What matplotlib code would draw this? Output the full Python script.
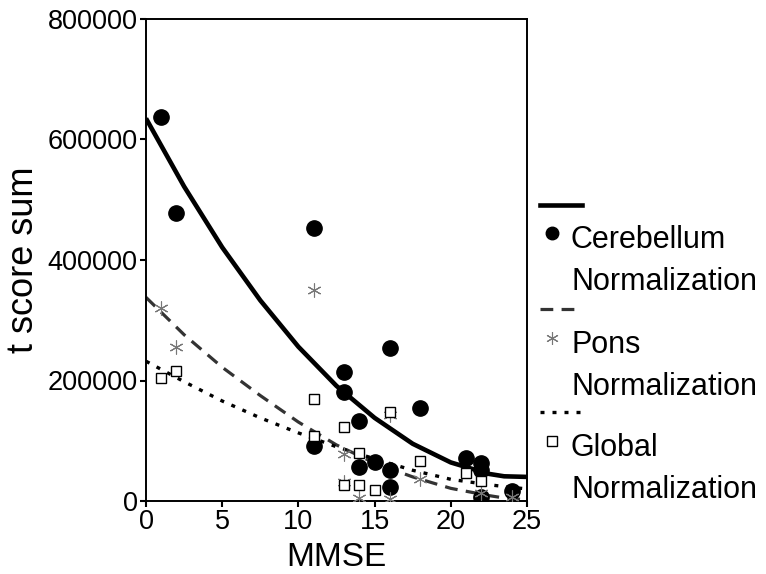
import numpy as np
import matplotlib
matplotlib.use('Agg')
from matplotlib import pyplot as plt
from matplotlib.lines import Line2D

plt.rcParams['font.family'] = ['Liberation Sans', 'DejaVu Sans']

# scatter data (MMSE, t score sum)
cer_mmse = [1, 2, 11, 11, 13, 13, 14, 14, 15, 16, 16, 16, 18, 21, 22, 22, 22, 24]
cer_t = [637000, 478000, 453000, 92000, 214000, 181000, 132000, 57000, 65000,
         254000, 51000, 24000, 154000, 71000, 63000, 51000, 7000, 16000]

pons_mmse = [1, 2, 11, 13, 13, 14, 16, 16, 18, 22, 24]
pons_t = [320000, 256000, 351000, 78000, 32000, 5000, 142000, 4000, 37000, 14000, 6000]

glob_mmse = [1, 2, 11, 11, 13, 13, 14, 14, 15, 16, 18, 21, 22]
glob_t = [204000, 215000, 169000, 108000, 122000, 26000, 79000, 26000, 18000,
          148000, 66000, 47000, 33000]

# fitted curves
fit_x = [0, 2.5, 5, 7.5, 10, 12.5, 15, 17.5, 20, 22.5, 23.5, 25]
cer_fit = [635000, 522000, 421000, 333000, 256000, 191000, 138000, 95000, 64000, 45000, 41000, 40000]
pons_fit = [338000, 276000, 222000, 175000, 131000, 93000, 63000, 40000, 21000, 9000, 5000, 2000]
glob_fit = [232000, 198000, 166000, 138000, 113000, 90000, 70000, 51000, 36000, 27000, 24000, 20000]

fig_dims = (7.66, 5.74)
tick_fs = 19.5
xlabel_fs = 24
ylabel_fs = 26
legend_fs = 22

fig = plt.figure(figsize=fig_dims, dpi=100)
ax = fig.add_axes([146 / 766, 73 / 574, 381 / 766, 482 / 574])

''' fit lines '''
ax.plot(fit_x, cer_fit, color='black', lw=3.3, solid_capstyle='butt', solid_joinstyle='round')
ax.plot(fit_x, pons_fit, color='#333333', lw=2.3, linestyle=(0, (4, 2.6)))
ax.plot(fit_x, glob_fit, color='black', lw=2.4, linestyle=(0, (1.2, 2.4)))

''' points '''
ax.plot(cer_mmse, cer_t, 'o', color='black', ms=11, zorder=3)
ax.plot(pons_mmse, pons_t, linestyle='none', marker=(6, 2, 0), color='#777777',
        ms=10, mew=0.8, zorder=3)
ax.plot(glob_mmse, glob_t, 's', mfc='white', mec='black', ms=7.5, mew=1.0, zorder=3)

''' axes '''
ax.set_xlim(0, 25)
ax.set_ylim(0, 800000)
ax.set_xticks([0, 5, 10, 15, 20, 25])
ax.set_yticks([0, 200000, 400000, 600000, 800000])
ax.set_yticklabels(['0', '200000', '400000', '600000', '800000'])
ax.tick_params(axis='both', labelsize=tick_fs, direction='out', length=4, width=1.5, pad=2)
for sp in ax.spines.values():
    sp.set_linewidth(1.4)
ax.set_xlabel('MMSE', fontsize=xlabel_fs, labelpad=5)
ax.set_ylabel('t score sum', fontsize=ylabel_fs, labelpad=5)

''' legend, drawn by hand '''
def fx(px):
    return px / 766

def fy(py):
    return 1 - py / 574

entries = [
    (dict(color='black', lw=3.3), 205, 'o', dict(color='black', ms=9), 233, 'Cerebellum'),
    (dict(color='#333333', lw=2.3, linestyle=(0, (4, 2.6))), 309,
     (6, 2, 0), dict(color='#777777', ms=9, mew=0.8), 338, 'Pons'),
    (dict(color='black', lw=2.4, linestyle=(0, (1.2, 2.4))), 412,
     's', dict(mfc='white', mec='black', ms=6.5, mew=1.0), 441, 'Global'),
]
for lkw, ly, mk, mkw, my, name in entries:
    fig.add_artist(Line2D([fx(540), fx(582)], [fy(ly), fy(ly)], **lkw))
    fig.add_artist(Line2D([fx(552)], [fy(my)], marker=mk, linestyle='none', **mkw))
    fig.text(fx(571), fy(my + 7), name, fontsize=legend_fs, va='center', ha='left')
    fig.text(fx(571), fy(my + 49), 'Normalization', fontsize=legend_fs, va='center', ha='left')

fig.savefig('out.png', dpi=100)
